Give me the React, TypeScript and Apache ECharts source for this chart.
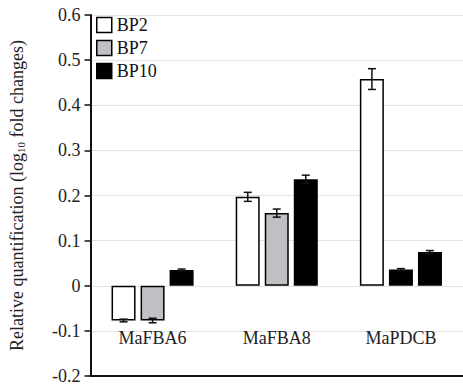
import React, { useEffect, useRef } from "react";
import * as echarts from "echarts";

const categories = ["MaFBA6", "MaFBA8", "MaPDCB"];
const seriesNames = ["BP2", "BP7", "BP10"];
const bp2Values = [-0.077, 0.197, 0.458];
const bp7Values = [-0.077, 0.161, 0.036];
const bp10Values = [0.035, 0.236, 0.075];
const bp2Errors = [0.003, 0.01, 0.023];
const bp7Errors = [0.005, 0.009, 0.002];
const bp10Errors = [0.002, 0.009, 0.003];
const yTicks = { min: -0.2, max: 0.6, interval: 0.1 };

const FONT = "Liberation Serif";

export default function App() {
  const ref = useRef<HTMLDivElement>(null);
  useEffect(() => {
    if (!ref.current) return;
    const chart = echarts.init(ref.current, null, { renderer: "svg" });
    const barW = 24;
    const step = 29;
    const values = [bp2Values, bp7Values, bp10Values];
    const errors = [bp2Errors, bp7Errors, bp10Errors];
    const colors = ["#ffffff", "#bfc0c3", "#000000"];

    const barSeries = seriesNames.map((name, si) => ({
      name,
      type: "bar",
      barWidth: barW,
      barGap: "21%",
      itemStyle: { color: colors[si], borderColor: "#000", borderWidth: 1.5 },
      data: values[si].map((v, ci) =>
        si === 1 && ci === 2 ? { value: v, itemStyle: { color: "#000" } } : v
      ),
      z: 2,
    }));

    const errSeries = seriesNames.map((name, si) => ({
      name: name + "_err",
      type: "custom",
      z: 5,
      data: values[si].map((v, ci) => [ci, v, errors[si][ci]]),
      renderItem: (params: any, api: any) => {
        const ci = api.value(0);
        const v = api.value(1);
        const e = api.value(2);
        const top = api.coord([ci, v + e]);
        const bot = api.coord([ci, v - e]);
        const x = top[0] + (si - 1) * step;
        const cap = 4;
        const style = { stroke: "#111", lineWidth: 1.5, fill: null };
        return {
          type: "group",
          children: [
            { type: "line", shape: { x1: x, y1: top[1], x2: x, y2: bot[1] }, style },
            { type: "line", shape: { x1: x - cap, y1: top[1], x2: x + cap, y2: top[1] }, style },
            { type: "line", shape: { x1: x - cap, y1: bot[1], x2: x + cap, y2: bot[1] }, style },
          ],
        };
      },
    }));

    chart.setOption({
      animation: false,
      backgroundColor: "#fff",
      textStyle: { fontFamily: FONT },
      grid: { left: 88, right: -14, top: 15, bottom: 9, containLabel: false },
      legend: {
        data: seriesNames,
        orient: "vertical",
        left: 96,
        top: 16,
        padding: 0,
        itemWidth: 15,
        itemHeight: 15,
        itemGap: 5,
        icon: "rect",
        itemStyle: { borderColor: "#000", borderWidth: 1.5 },
        textStyle: { fontFamily: FONT, fontSize: 18, lineHeight: 18, color: "#111" },
      },
      xAxis: {
        type: "category",
        data: categories,
        axisLine: { onZero: false, lineStyle: { color: "#111", width: 2 } },
        axisTick: { show: false },
        axisLabel: { margin: -47, fontFamily: FONT, fontSize: 18, color: "#222" },
        splitLine: { show: false },
      },
      yAxis: {
        type: "value",
        min: yTicks.min,
        max: yTicks.max,
        interval: yTicks.interval,
        axisLine: { show: true, lineStyle: { color: "#111", width: 2 } },
        axisTick: { show: true, length: 6, lineStyle: { color: "#111", width: 1.5 } },
        axisLabel: { margin: 10, fontFamily: FONT, fontSize: 18, color: "#222" },
        splitLine: { lineStyle: { color: "#e3e3e3", width: 1 } },
        name: "Relative quantification (log{sub|10} fold changes)",
        nameLocation: "middle",
        nameGap: 64,
        nameRotate: 90,
        nameTextStyle: {
          fontFamily: FONT,
          fontSize: 18,
          color: "#222",
          rich: {
            sub: { fontFamily: FONT, fontSize: 11, color: "#222", padding: [8, 0, 0, 0] },
          },
        },
      },
      series: [...barSeries, ...errSeries],
    });
    return () => chart.dispose();
  }, []);
  return (
    <div
      ref={ref}
      style={{ position: "fixed", left: 0, top: 0, width: 463, height: 385 }}
    />
  );
}
